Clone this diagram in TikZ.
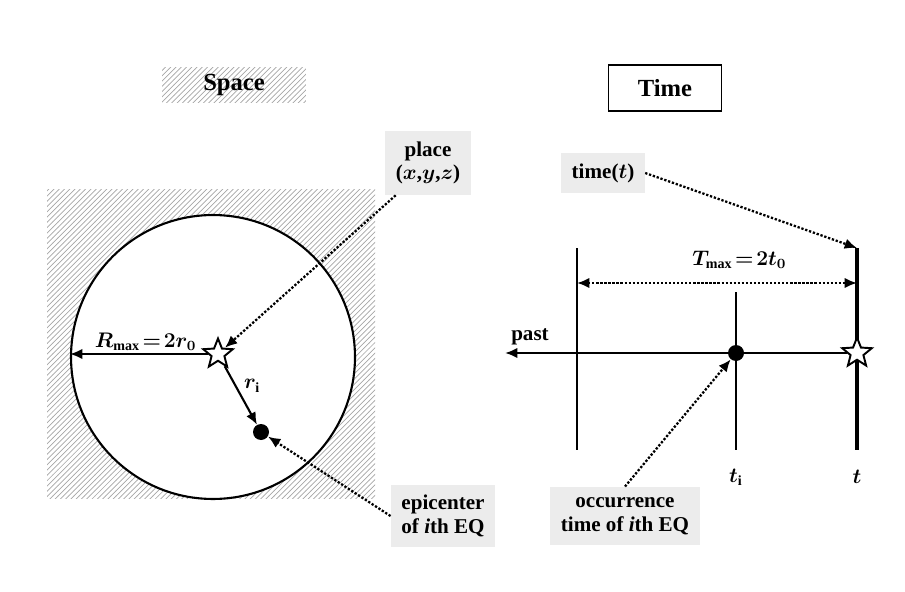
\documentclass[tikz,border=0pt]{standalone}
\usepackage{fontspec}
\setmainfont{Liberation Serif}
\usetikzlibrary{arrows.meta,patterns,shapes.geometric}

\begin{document}
\begin{tikzpicture}
  [x=0.02cm, y=-0.02cm,
   tag/.style={fill=gray!15, font=\bfseries\boldmath\fontsize{12}{13.5}\selectfont, align=center, inner sep=6pt},
   title/.style={font=\bfseries\fontsize{14}{16}\selectfont, minimum height=0.72cm},
   mathlabel/.style={font=\boldmath\fontsize{12}{14}\selectfont},
   hatch/.style={pattern=north east lines, pattern color=gray!70},
   pointer/.style={densely dotted, line width=1.3pt, -{Latex[length=7pt,width=6pt]}},
   arrowline/.style={line width=1.2pt, -{Latex[length=7pt,width=6pt]}},
   axis/.style={line width=1.6pt},
   quake/.style={star, star points=5, star point ratio=2.3, draw, line width=1.1pt, fill=white, minimum size=0.62cm, inner sep=0pt},
   event/.style={circle, fill=black, minimum size=0.32cm, inner sep=0pt}]

  \useasboundingbox (0,0) rectangle (905,591);

  % Titel
  \node[title, hatch, minimum width=2.88cm] (space) at (234,85) {Space};
  \node[title, draw, line width=1pt, minimum width=2.26cm, minimum height=0.92cm] (time) at (665,88) {Time};

  % Raum
  \fill[hatch] (47,190) rectangle (375,498);
  \draw[line width=1.2pt, fill=white] (213,357) circle (2.84cm);
  \coordinate (rim) at (70,354);
  \node[quake] (sstar) at (218,354) {};
  \node[event] (sdot) at (261,432) {};
  \draw[arrowline] (sstar) -- (rim) node[mathlabel, pos=0.45, above=-2pt] {$R_{\max}\!=\!2r_0$};
  \draw[arrowline] (sstar) -- (sdot) node[mathlabel, midway, above right=-2pt] {$r_{\mathrm{i}}$};

  \node[tag] (place) at (428,163) {place\\($x$,$y$,$z$)};
  \node[tag] (epi) at (443,516) {epicenter\\of \textit{i}th EQ};
  \draw[pointer] (place.225) -- (sstar);
  \draw[pointer] (epi.west) -- (sdot);

  % Zeit
  \coordinate (past) at (505,353);
  \foreach \name/\x/\top in {tmax/577/248, ti/736/292, tnow/857/248}
    \coordinate (\name top) at (\x,\top);
  \foreach \name/\x in {tmax/577, ti/736, tnow/857}
    \coordinate (\name bot) at (\x,450);
  \draw[axis] (tmaxtop) -- (tmaxbot);
  \draw[axis] (titop) -- (tibot);
  \draw[line width=2.4pt] (tnowtop) -- (tnowbot);

  \node[event] (tdot) at (736,353) {};
  \node[quake] (tstar) at (857,353) {};
  \draw[axis, -{Latex[length=7pt,width=6pt]}] (tstar) -- (past);
  \node[font=\bfseries\fontsize{12}{14}\selectfont] (pastlabel) at (530,337) {past};

  \coordinate (tmaxmid) at (577,283);
  \coordinate (tnowmid) at (857,283);
  \draw[pointer, {Latex[length=7pt,width=6pt]}-{Latex[length=7pt,width=6pt]}] (tmaxmid) -- (tnowmid)
    node[mathlabel, pos=0.58, above=4pt] {$T_{\max}\!=\!2t_0$};

  \node[tag] (tlabel) at (603,173) {time($t$)};
  \node[tag] (occur) at (625,516) {occurrence\\time of \textit{i}th EQ};
  \draw[pointer] (tlabel.east) -- (tnowtop);
  \draw[pointer] (occur.north) -- (tdot);

  \node[mathlabel] (tilabel) at (736,477) {$t_{\mathrm{i}}$};
  \node[mathlabel] (tlast) at (857,477) {$t$};
\end{tikzpicture}
\end{document}
